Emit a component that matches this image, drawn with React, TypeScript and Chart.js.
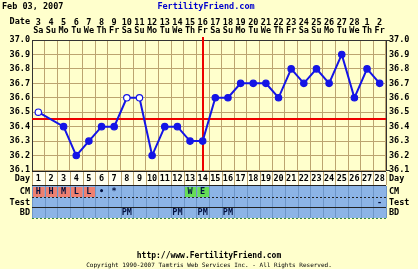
import React, { useEffect, useRef } from "react";
import { Chart, registerables } from "chart.js";

Chart.register(...registerables);

const chartDate = "Feb 03, 2007";
const siteName = "FertilityFriend.com";
const siteUrl = "http://www.FertilityFriend.com";
const copyright = "Copyright 1990-2007 Tamtris Web Services Inc. - All Rights Reserved.";

const cycleDays = ["1","2","3","4","5","6","7","8","9","10","11","12","13","14","15","16","17","18","19","20","21","22","23","24","25","26","27","28"];
const dateNumbers = ["3","4","5","6","7","8","9","10","11","12","13","14","15","16","17","18","19","20","21","22","23","24","25","26","27","28","1","2"];
const weekdays = ["Sa","Su","Mo","Tu","We","Th","Fr","Sa","Su","Mo","Tu","We","Th","Fr","Sa","Su","Mo","Tu","We","Th","Fr","Sa","Su","Mo","Tu","We","Th","Fr"];
const temperatures: (number | null)[] = [36.5, null, 36.4, 36.2, 36.3, 36.4, 36.4, 36.6, 36.6, 36.2, 36.4, 36.4, 36.3, 36.3, 36.6, 36.6, 36.7, 36.7, 36.7, 36.6, 36.8, 36.7, 36.8, 36.7, 36.9, 36.6, 36.8, 36.7];
const openMarkerDays = ["1", "8", "9"];
const coverline = 36.45;
const ovulationDay = "14";
const cmCodes = ["H","H","M","L","L","•","*","","","","","","W","E","","","","","","","","","","","","","",""];
const testCodes = ["","","","","","","","","","","","","","","","","","","","","","","","","","","","-"];
const bdCodes = ["","","","","","","","PM","","","","PM","","PM","","PM","","","","","","","","","","","",""];
const tempMin = 36.1;
const tempMax = 37.0;
const tempStep = 0.1;

const BG = "#FFFFCC";
const GRID = "#BCA470";
const BLUE = "#1414E6";
const RED = "#EE0000";
const ROW_BLUE = "#8CB4E6";
const SALMON = "#EE8070";
const GREEN = "#66DD55";
const MONO = '"DejaVu Sans Mono", monospace';
const FS = 8.5;

const rowLabels = ["Day", "CM", "Test", "BD"];

export default function App() {
  const ref = useRef<HTMLCanvasElement | null>(null);

  useEffect(() => {
    const canvas = ref.current;
    if (!canvas) return;

    const bgPlugin = {
      id: "bgfill",
      beforeDraw(chart: any) {
        const ctx = chart.ctx;
        ctx.save();
        ctx.fillStyle = BG;
        ctx.fillRect(0, 0, chart.width, chart.height);
        ctx.restore();
      },
    };

    const markersPlugin = {
      id: "markers",
      beforeDatasetsDraw(chart: any) {
        const ctx = chart.ctx;
        const { left, right, top, bottom } = chart.chartArea;
        const y = chart.scales.y;
        const x = chart.scales.x;
        ctx.save();
        ctx.strokeStyle = RED;
        ctx.lineWidth = 2;
        const cy = Math.round(y.getPixelForValue(coverline));
        ctx.beginPath();
        ctx.moveTo(left, cy);
        ctx.lineTo(right, cy);
        ctx.stroke();
        const ox = Math.round(x.getPixelForValue(cycleDays.indexOf(ovulationDay)));
        ctx.beginPath();
        ctx.moveTo(ox, top - 3);
        ctx.lineTo(ox, bottom + 2);
        ctx.stroke();
        ctx.restore();
      },
    };

    const tablePlugin = {
      id: "fftable",
      afterDraw(chart: any) {
        const ctx = chart.ctx;
        const x = chart.scales.x;
        const { left, right, top, bottom } = chart.chartArea;
        const cw = (right - left) / cycleDays.length;
        ctx.save();

        ctx.fillStyle = "#000";
        ctx.font = `bold 8.5px ${MONO}`;
        ctx.textBaseline = "middle";
        ctx.textAlign = "left";
        ctx.fillText(chartDate, 2, 7);
        ctx.fillStyle = "#0000CC";
        ctx.textAlign = "center";
        ctx.fillText(siteName, 206, 7);
        ctx.fillStyle = "#000";
        ctx.font = `bold ${FS}px ${MONO}`;
        ctx.textAlign = "right";
        ctx.fillText("Date", left - 2, 22);

        ctx.strokeStyle = "#333";
        ctx.lineWidth = 1;
        ctx.beginPath();
        ctx.moveTo(right, top + 0.5);
        ctx.lineTo(right + 4, top + 0.5);
        ctx.moveTo(right, bottom + 0.5);
        ctx.lineTo(right + 4, bottom + 0.5);
        ctx.stroke();

        const rows = [
          { t: bottom + 2, b: bottom + 15, fill: "#FFFFEE", vals: cycleDays },
          { t: bottom + 16, b: bottom + 27, fill: ROW_BLUE, vals: cmCodes },
          { t: bottom + 27, b: bottom + 37, fill: ROW_BLUE, vals: testCodes },
          { t: bottom + 37, b: bottom + 48, fill: ROW_BLUE, vals: bdCodes },
        ];

        rows.forEach((row, r) => {
          ctx.fillStyle = row.fill;
          ctx.fillRect(left, row.t, right - left, row.b - row.t);
          row.vals.forEach((v, i) => {
            const cx = x.getPixelForValue(i);
            const l = cx - cw / 2;
            if (r === 1 && v) {
              let c = "";
              if (v === "H" || v === "M" || v === "L") c = SALMON;
              if (v === "W" || v === "E") c = GREEN;
              if (c) {
                ctx.fillStyle = c;
                ctx.fillRect(l + 1, row.t + 1, cw - 1, row.b - row.t - 1);
              }
            }
          });
          ctx.strokeStyle = r === 0 ? GRID : "#6E96C8";
          ctx.lineWidth = 1;
          ctx.beginPath();
          for (let i = 0; i <= cycleDays.length; i++) {
            const lx = Math.round(left + i * cw) + 0.5;
            ctx.moveTo(lx, row.t);
            ctx.lineTo(lx, row.b);
          }
          ctx.stroke();
          ctx.font = `bold ${FS}px ${MONO}`;
          ctx.textAlign = "center";
          ctx.textBaseline = "middle";
          const my = (row.t + row.b) / 2 + 0.5;
          row.vals.forEach((v, i) => {
            if (!v) return;
            const cx = x.getPixelForValue(i);
            ctx.fillStyle = r === 0 ? "#000" : "#001040";
            ctx.fillText(v, cx, my);
          });
          ctx.fillStyle = "#000";
          ctx.textAlign = "right";
          ctx.fillText(rowLabels[r], left - 2, my);
          ctx.textAlign = "left";
          ctx.fillText(rowLabels[r], right + 3, my);
        });

        ctx.strokeStyle = "#222";
        ctx.lineWidth = 1;
        const sep = (yy: number, dash: number[]) => {
          ctx.setLineDash(dash);
          ctx.beginPath();
          ctx.moveTo(left, yy + 0.5);
          ctx.lineTo(right, yy + 0.5);
          ctx.stroke();
        };
        sep(rows[0].t - 1, []);
        sep(rows[1].t - 1, []);
        sep(rows[2].t, [2, 2]);
        sep(rows[3].t, []);
        ctx.strokeStyle = "#3A8A3A";
        sep(rows[3].b, [2, 2]);
        ctx.setLineDash([]);

        ctx.fillStyle = "#000";
        ctx.textAlign = "center";
        ctx.font = `bold 8px ${MONO}`;
        ctx.fillText(siteUrl, 209, 256);
        ctx.font = `6px ${MONO}`;
        ctx.fillText(copyright, 209, 265);
        ctx.restore();
      },
    };

    const pointFill = cycleDays.map((d) => (openMarkerDays.includes(d) ? "#FFFFFF" : BLUE));

    const chart = new Chart(canvas, {
      type: "line",
      data: {
        labels: cycleDays,
        datasets: [
          {
            data: temperatures,
            borderColor: BLUE,
            borderWidth: 2,
            pointRadius: 3.2,
            pointBorderWidth: 1.2,
            pointBackgroundColor: pointFill,
            pointBorderColor: BLUE,
            spanGaps: true,
            tension: 0,
            segment: {
              borderDash: (c: any) => (c.p1DataIndex - c.p0DataIndex > 1 ? [3, 10] : undefined),
              borderDashOffset: (c: any) => (c.p1DataIndex - c.p0DataIndex > 1 ? 7 : undefined),
              borderWidth: (c: any) => (c.p1DataIndex - c.p0DataIndex > 1 ? 1 : undefined),
            },
          },
        ],
      },
      options: {
        responsive: false,
        animation: false,
        events: [],
        layout: { padding: { top: 0, left: 0, right: 0, bottom: 99 } },
        plugins: { legend: { display: false }, tooltip: { enabled: false }, title: { display: false } },
        scales: {
          x: {
            type: "category",
            position: "top",
            offset: true,
            grid: { offset: true, color: GRID, drawTicks: false, lineWidth: 1 },
            border: { color: "#333", width: 1 },
            ticks: {
              autoSkip: false,
              maxRotation: 0,
              minRotation: 0,
              padding: 5,
              color: "#000",
              font: { family: MONO, size: FS, weight: "bold", lineHeight: 8 / FS },
              callback: (_v: any, i: number) => [dateNumbers[i], weekdays[i]],
            },
            afterFit: (s: any) => {
              s.height = 40;
            },
          },
          y: {
            min: tempMin,
            max: tempMax,
            position: "left",
            grid: { color: GRID, drawTicks: false },
            border: { color: "#333", width: 1 },
            ticks: {
              stepSize: tempStep,
              padding: 2,
              color: "#000",
              font: { family: MONO, size: FS, weight: "bold" },
              callback: (v: any) => Number(v).toFixed(1),
            },
            afterFit: (s: any) => {
              s.width = 32;
            },
          },
          y2: {
            min: tempMin,
            max: tempMax,
            position: "right",
            grid: { drawOnChartArea: false, drawTicks: false },
            border: { color: "#333", width: 1 },
            ticks: {
              stepSize: tempStep,
              padding: 3,
              color: "#000",
              font: { family: MONO, size: FS, weight: "bold" },
              callback: (v: any) => Number(v).toFixed(1),
            },
            afterFit: (s: any) => {
              s.width = 32;
            },
          },
        },
      },
      plugins: [bgPlugin, markersPlugin, tablePlugin],
    } as any);

    return () => chart.destroy();
  }, []);

  return (
    <div style={{ position: "absolute", left: 0, top: 0, width: 418, height: 269, background: BG }}>
      <canvas ref={ref} width={418} height={269} style={{ display: "block", width: 418, height: 269 }} />
    </div>
  );
}
